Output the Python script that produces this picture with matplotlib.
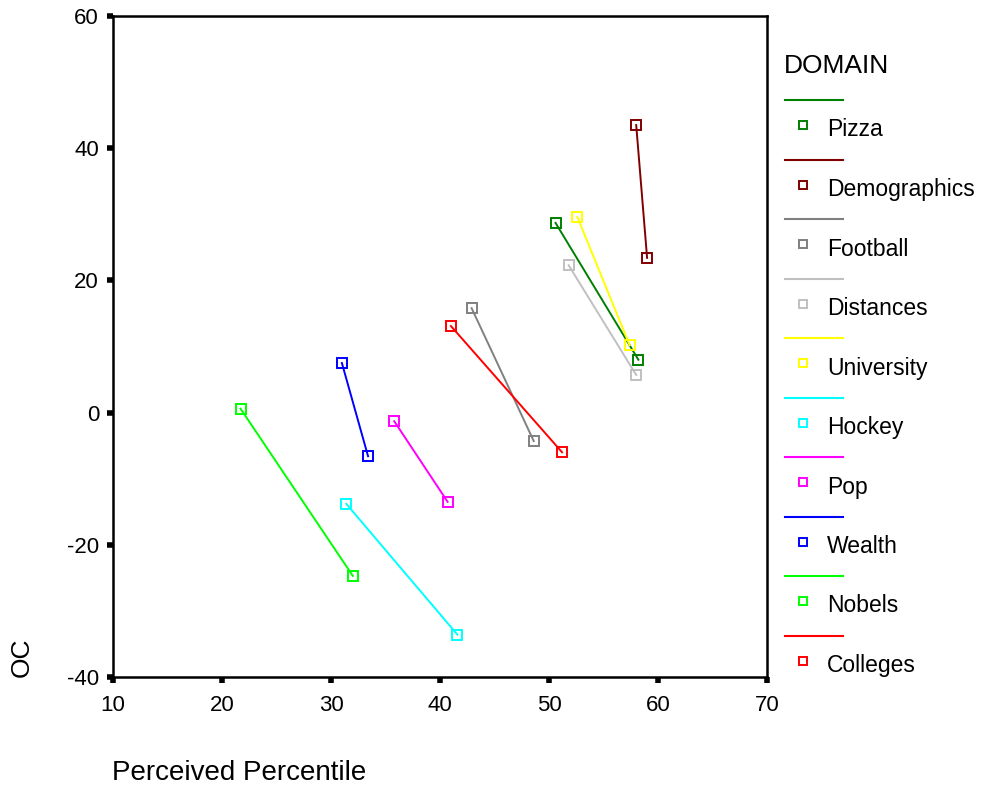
import matplotlib
matplotlib.use("Agg")
import matplotlib.pyplot as plt
from matplotlib.lines import Line2D

plt.rcParams["font.family"] = ["Liberation Sans", "DejaVu Sans"]
plt.rcParams["axes.unicode_minus"] = False

domains = ["Pizza", "Demographics", "Football", "Distances", "University",
           "Hockey", "Pop", "Wealth", "Nobels", "Colleges"]
colors = ["#008000", "#800000", "#808080", "#c0c0c0", "#ffff00",
          "#00ffff", "#ff00ff", "#0000ff", "#00ff00", "#ff0000"]
# two points per domain (start, end)
perc_x = [[50.6, 58.2], [58.0, 59.0], [42.9, 48.6], [51.8, 58.0], [52.6, 57.4],
          [31.4, 41.6], [35.8, 40.7], [31.0, 33.4], [21.7, 32.0], [41.0, 51.2]]
oc_y = [[28.7, 8.0], [43.5, 23.4], [15.8, -4.3], [22.3, 5.7], [29.6, 10.2],
        [-13.8, -33.6], [-1.3, -13.5], [7.5, -6.6], [0.6, -24.7], [13.1, -6.0]]

W, H = 982, 791
fig = plt.figure(figsize=(W / 100, H / 100), dpi=100)
ax = fig.add_axes([113 / W, 1 - 677 / H, (767 - 113) / W, (677 - 16) / H])

for name, c, xs, ys in zip(domains, colors, perc_x, oc_y):
    ax.plot(xs, ys, color=c, lw=1.4, marker="s", markersize=7.5,
            markerfacecolor="none", markeredgecolor=c, markeredgewidth=1.4,
            label=name)

ax.set_xlim(10, 70)
ax.set_ylim(-40, 60)
ax.set_xticks([10, 20, 30, 40, 50, 60, 70])
ax.set_yticks([-40, -20, 0, 20, 40, 60])
ax.tick_params(direction="out", length=4, width=4, labelsize=16, pad=6)
ax.tick_params(axis="x", pad=9)
for s in ax.spines.values():
    s.set_linewidth(1.8)

fig.text(112 / W, 1 - 773 / H, "Perceived Percentile", fontsize=20,
         ha="left", va="center")
fig.text(22 / W, 1 - 657 / H, "OC", fontsize=19, rotation=90,
         ha="center", va="center")

# legend drawn by hand (SPSS style: line above marker+label)
fig.text(784 / W, 1 - 66 / H, "DOMAIN", fontsize=19, ha="left", va="center")
for i, (name, c) in enumerate(zip(domains, colors)):
    y0 = 100 + i * 59.5
    fig.add_artist(Line2D([785 / W, 843 / W], [1 - y0 / H, 1 - y0 / H],
                          color=c, lw=1.5, transform=fig.transFigure))
    fig.add_artist(Line2D([803 / W], [1 - (y0 + 25) / H], marker="s",
                          markersize=6, markerfacecolor="none",
                          markeredgecolor=c, markeredgewidth=1.4,
                          transform=fig.transFigure))
    fig.text(827 / W, 1 - (y0 + 30) / H, name, fontsize=16.5,
             ha="left", va="center")

fig.savefig("out.png", dpi=100)
